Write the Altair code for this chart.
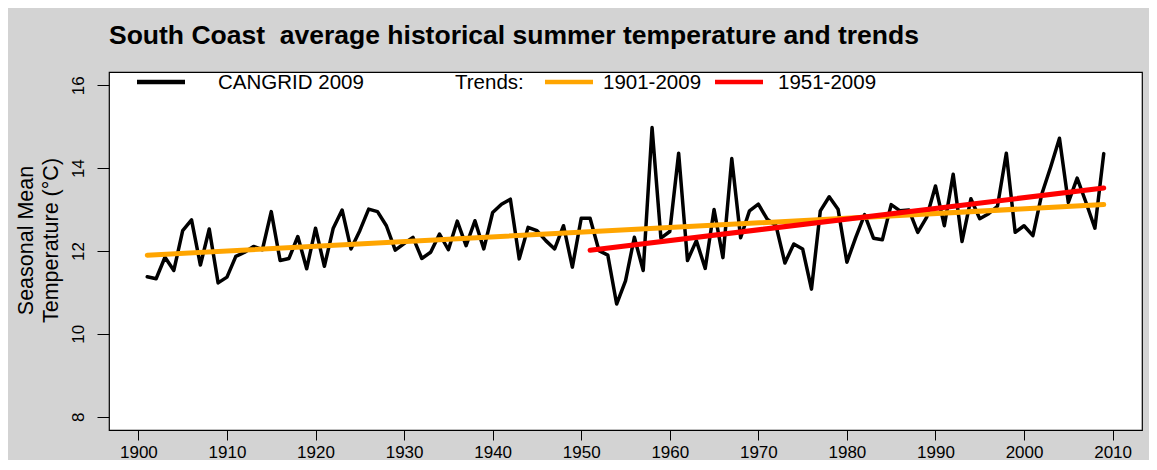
import altair as alt
import pandas as pd

# ---------------- data ----------------
years = list(range(1901, 2010))
temps = [
    11.38, 11.33, 11.85, 11.53, 12.49, 12.75, 11.66, 12.53, 11.23, 11.37,   # 1901-1910
    11.87, 11.97, 12.11, 12.03, 12.95, 11.77, 11.82, 12.35, 11.57, 12.55,   # 1911-1920
    11.63, 12.55, 12.99, 12.05, 12.49, 13.01, 12.95, 12.61, 12.02, 12.18,   # 1921-1930
    12.33, 11.82, 11.97, 12.41, 12.03, 12.72, 12.13, 12.73, 12.05, 12.93,   # 1931-1940
    13.13, 13.25, 11.81, 12.57, 12.49, 12.25, 12.05, 12.61, 11.61, 12.79,   # 1941-1950
    12.79, 12.01, 11.90, 10.72, 11.28, 12.33, 11.53, 14.98, 12.31, 12.47,   # 1951-1960
    14.36, 11.77, 12.25, 11.58, 13.00, 11.84, 14.23, 12.32, 12.97, 13.13,   # 1961-1970
    12.77, 12.61, 11.71, 12.17, 12.05, 11.08, 12.97, 13.31, 13.01, 11.73,   # 1971-1980
    12.33, 12.88, 12.31, 12.27, 13.12, 12.97, 12.99, 12.45, 12.81, 13.57,   # 1981-1990
    12.61, 13.85, 12.23, 13.26, 12.78, 12.90, 13.08, 14.36, 12.45, 12.61,   # 1991-2000
    12.37, 13.37, 14.02, 14.72, 13.17, 13.76, 13.17, 12.55, 14.35,          # 2001-2009
]
series_name = "CANGRID 2009"

trend_names = ["1901-2009", "1951-2009"]
trend_years = [[1901, 2009], [1951, 2009]]
trend_values = [[11.90, 13.12], [12.02, 13.52]]
trend_colors = ["#FFA500", "#FF0000"]

x_ticks = list(range(1900, 2011, 10))
y_ticks = [8, 10, 12, 14, 16]
x_domain = [1896.68, 2013.32]
y_domain = [7.68, 16.32]

title_text = "South Coast\u00a0 average historical summer temperature and trends"
y_title = ["Seasonal Mean", "Temperature (\u00b0C)"]
legend_labels = [series_name, "Trends:", trend_names[0], trend_names[1]]

FONT = "Liberation Sans"

# ---------------- tables ----------------
obs = pd.DataFrame({"year": years, "temp": temps})
trend_rows = []
for name, ys, vs in zip(trend_names, trend_years, trend_values):
    for y, v in zip(ys, vs):
        trend_rows.append({"series": name, "year": y, "temp": v})
trends = pd.DataFrame(trend_rows)

xs = alt.Scale(domain=x_domain, nice=False, zero=False)
ysc = alt.Scale(domain=y_domain, nice=False, zero=False)

x_axis = alt.Axis(values=x_ticks, format="d", title=None, tickSize=10,
                  labelPadding=4, labelFontSize=17, labelFont=FONT,
                  labelColor="black", tickColor="black", domain=False,
                  grid=False, labelFlush=False, labelOverlap=False)
y_axis = alt.Axis(values=y_ticks, title=y_title, tickSize=12, labelPadding=14,
                  labelAngle=270, labelAlign="center", labelBaseline="alphabetic",
                  labelFontSize=17, labelFont=FONT, labelColor="black",
                  tickColor="black", domain=False, grid=False,
                  titleAngle=270, titleFont=FONT, titleFontSize=21.5,
                  titleFontWeight="normal", titleColor="black",
                  titleAlign="center", titleBaseline="alphabetic",
                  titleX=-77, titleY=168, titleLineHeight=25)

X = alt.X("year:Q", scale=xs, axis=x_axis)
Y = alt.Y("temp:Q", scale=ysc, axis=y_axis)

obs_line = alt.Chart(obs).mark_line(color="black", strokeWidth=3.5,
                                    strokeJoin="round", strokeCap="round").encode(x=X, y=Y)

trend_lines = alt.Chart(trends).mark_line(strokeWidth=5, strokeCap="round").encode(
    x=X, y=Y,
    color=alt.Color("series:N", scale=alt.Scale(domain=trend_names, range=trend_colors),
                    legend=None),
    order=alt.Order("year:Q"),
)

# ---------------- hand-made legend (inside the plot, at the top) ----------------
LEG_Y = 10
def leg_rule(color, x0, x1):
    return alt.Chart(pd.DataFrame({"k": [0]})).mark_rule(
        color=color, strokeWidth=4.5, strokeCap="butt").encode(
        x=alt.value(x0), x2=alt.value(x1), y=alt.value(LEG_Y))

def leg_text(label, x0):
    return alt.Chart(pd.DataFrame({"t": [label]})).mark_text(
        align="left", baseline="middle", fontSize=20.5, font=FONT, color="black").encode(
        text="t:N", x=alt.value(x0), y=alt.value(LEG_Y + 1))

legend = [
    leg_rule("black", 28, 76), leg_text(legend_labels[0], 109),
    leg_text(legend_labels[1], 346),
    leg_rule(trend_colors[0], 436, 484), leg_text(legend_labels[2], 494),
    leg_rule(trend_colors[1], 606, 654), leg_text(legend_labels[3], 669),
]

chart = alt.layer(obs_line, trend_lines, *legend).properties(
    width=1033, height=358,
    padding={"left": 101, "top": 64, "right": 7, "bottom": 30},
    autosize=alt.AutoSizeParams(type="none"),
    background="#d3d3d3",
    title=alt.TitleParams(text=title_text, anchor="start", frame="group",
                          fontSize=26.5, font=FONT, fontWeight="bold",
                          color="black", offset=23),
).configure_view(fill="white", stroke="black", strokeWidth=1.2)

chart.save("out.html", embed_options={"renderer": "svg", "actions": False})
